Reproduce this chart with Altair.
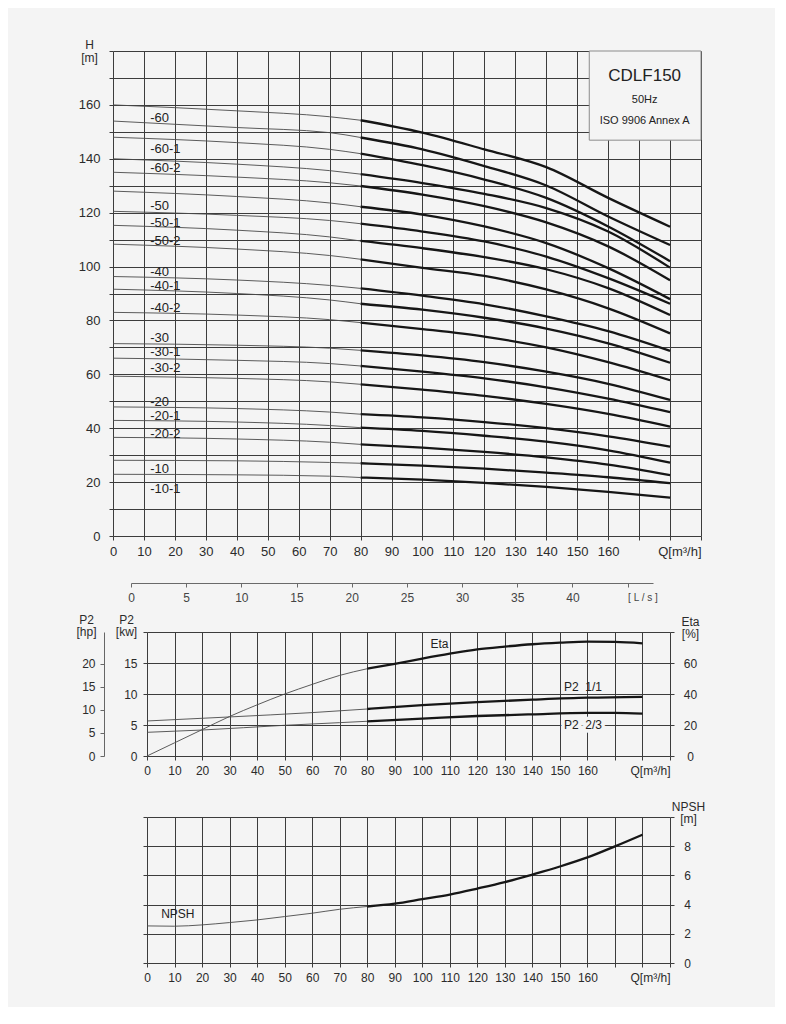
import altair as alt
import pandas as pd

FONT = "Liberation Sans"
BG = "#f4f4f4"
GRID = "#3c3c3c"
TXT = "#2b2b2b"
THIN = "#4a4a4a"
THICK = "#161616"

# ---------------- main chart: H(Q) curves ----------------
Q_THIN = [0, 40, 70, 80]
Q_THICK = [80, 100, 120, 140, 160, 180]
H_THIN = [
    [160.0, 157.8, 155.6, 154.3],
    [154.0, 151.6, 149.7, 147.9],
    [148.0, 146.0, 143.5, 141.9],
    [140.0, 138.0, 135.6, 134.3],
    [135.0, 133.2, 131.1, 129.9],
    [128.0, 126.0, 123.6, 122.2],
    [120.5, 119.0, 117.1, 115.9],
    [115.3, 113.5, 111.0, 109.5],
    [108.3, 106.5, 104.1, 102.7],
    [96.3, 95.0, 93.0, 91.9],
    [91.6, 90.0, 87.6, 86.2],
    [83.0, 82.0, 80.3, 79.2],
    [71.4, 70.8, 69.7, 68.9],
    [66.0, 65.2, 64.0, 63.1],
    [59.3, 58.5, 57.2, 56.3],
    [47.9, 47.3, 46.0, 45.2],
    [42.9, 42.3, 41.0, 40.2],
    [36.6, 36.0, 34.8, 34.0],
    [28.1, 27.9, 27.3, 27.0],
    [22.9, 22.7, 22.2, 21.7],
]
H_THICK = [
    [154.3, 149.7, 143.5, 136.9, 125.5, 114.8],
    [147.9, 143.5, 137.3, 130.1, 118.6, 108.0],
    [141.9, 137.6, 132.3, 125.5, 114.9, 102.0],
    [134.3, 131.0, 127.0, 121.7, 113.0, 99.6],
    [129.9, 126.7, 122.4, 116.4, 107.5, 94.9],
    [122.2, 119.3, 114.9, 108.7, 99.4, 87.9],
    [115.9, 113.0, 109.3, 103.7, 95.7, 86.2],
    [109.5, 106.8, 103.5, 99.0, 92.0, 82.0],
    [102.7, 99.5, 96.5, 91.5, 84.5, 75.2],
    [91.9, 89.2, 86.0, 81.5, 76.0, 68.7],
    [86.2, 84.0, 81.0, 77.0, 71.5, 64.3],
    [79.2, 76.8, 74.0, 70.0, 64.5, 57.8],
    [68.9, 67.0, 64.5, 61.0, 56.5, 50.5],
    [63.1, 61.0, 58.5, 55.2, 51.0, 46.0],
    [56.3, 54.3, 52.0, 49.0, 45.3, 40.6],
    [45.2, 44.0, 42.3, 40.0, 37.0, 33.2],
    [40.2, 39.0, 37.2, 35.0, 31.8, 27.2],
    [34.0, 32.8, 31.2, 29.2, 26.5, 22.6],
    [27.0, 26.1, 25.0, 23.5, 21.8, 19.6],
    [21.7, 20.9, 19.7, 18.2, 16.4, 14.2],
]
CURVE_LABELS = ["-60", "-60-1", "-60-2", "-50", "-50-1", "-50-2", "-40", "-40-1", "-40-2",
                "-30", "-30-1", "-30-2", "-20", "-20-1", "-20-2", "-10", "-10-1"]
CURVE_LABEL_H = [155.2, 143.6, 136.6, 122.5, 116.0, 109.5, 98.0, 92.8, 84.8,
                 73.6, 68.3, 62.4, 49.6, 44.6, 38.0, 24.9, 17.3]
CURVE_LABEL_Q = [12] * len(CURVE_LABELS)

BOX_Q = [153.9, 190]
BOX_H = [146.9, 180]
BOX_TEXT = ["CDLF150", "50Hz", "ISO 9906 Annex A"]
BOX_TEXT_Q = [171.8, 171.8, 171.8]
BOX_TEXT_H = [170.7, 161.7, 154.0]
BOX_TEXT_SIZE = [17, 11, 11]

Q_TICKS = list(range(0, 200, 10))
H_TICKS = list(range(0, 190, 10))

# ---------------- power / efficiency ----------------
P2_11_Q_THIN = [0, 30, 60, 80]
P2_11_THIN = [5.65, 6.3, 7.0, 7.58]
P2_11_Q_THICK = [80, 100, 120, 140, 160, 180]
P2_11_THICK = [7.58, 8.2, 8.7, 9.08, 9.4, 9.55]
P2_23_Q_THIN = [0, 20, 50, 70, 80]
P2_23_THIN = [3.82, 4.19, 4.95, 5.38, 5.6]
P2_23_Q_THICK = [80, 100, 120, 140, 160, 170, 180]
P2_23_THICK = [5.6, 6.02, 6.45, 6.72, 6.94, 6.95, 6.83]
ETA_Q_THIN = [0, 10, 20, 30, 40, 50, 60, 70, 80]
ETA_THIN = [0, 8.5, 17.0, 25.5, 33.0, 40.0, 46.2, 52.0, 56.3]
ETA_Q_THICK = [80, 90, 100, 110, 120, 130, 140, 150, 160, 170, 180]
ETA_THICK = [56.3, 59.4, 62.8, 66.0, 68.8, 70.6, 72.1, 73.1, 73.8, 73.6, 72.7]
KW_TICKS = [0, 5, 10, 15, 20]
HP_TICKS = [0, 5, 10, 15, 20]
ETA_TICKS = [0, 20, 40, 60, 80]
LPS_TICKS = [0, 5, 10, 15, 20, 25, 30, 35, 40, 45]
P2_LABELS = ["P2\u00a0\u00a01/1", "P2\u00a0\u00a02/3"]
P2_LABEL_Q = [158.4, 158.4]
P2_LABEL_KW = [11.2, 5.0]
ETA_LABEL = ["Eta"]
ETA_LABEL_Q = [103]
ETA_LABEL_V = [72]

# ---------------- NPSH ----------------
NPSH_Q_THIN = [0, 10, 20, 30, 40, 50, 60, 70, 80]
NPSH_THIN = [2.54, 2.52, 2.61, 2.77, 2.95, 3.18, 3.41, 3.68, 3.87]
NPSH_Q_THICK = [80, 90, 100, 110, 120, 130, 140, 150, 160, 170, 180]
NPSH_THICK = [3.87, 4.06, 4.37, 4.69, 5.10, 5.54, 6.06, 6.61, 7.23, 7.99, 8.79]
NPSH_TICKS = [0, 2, 4, 6, 8, 10]
NPSH_LABEL = ["NPSH"]
NPSH_LABEL_Q = [11.2]
NPSH_LABEL_V = [3.36]


def seg_rows(key, q_thin, v_thin, q_thick, v_thick):
    rows = []
    for q, v in zip(q_thin, v_thin):
        rows.append({"key": f"{key}-thin", "seg": "thin", "q": q, "v": v})
    for q, v in zip(q_thick, v_thick):
        rows.append({"key": f"{key}-thick", "seg": "thick", "q": q, "v": v})
    return rows


seg_color = alt.Color("seg:N", scale=alt.Scale(domain=["thin", "thick"], range=[THIN, THICK]), legend=None)
seg_width = alt.StrokeWidth("seg:N", scale=alt.Scale(domain=["thin", "thick"], range=[0.9, 2.3]), legend=None)

Q_LABEL_EXPR = "datum.value == 190 ? 'Q[m\u00b3/h]' : (datum.value > 160 ? '' : datum.label)"
Q_LABEL_ALIGN = {"condition": {"test": "datum.value == 190", "value": "right"}, "value": "center"}


def axis_q(size, pad):
    return alt.Axis(values=Q_TICKS, grid=True, gridColor=GRID, gridWidth=1, domain=False,
                    ticks=True, tickColor=GRID, tickSize=4, labelExpr=Q_LABEL_EXPR,
                    labelAlign=Q_LABEL_ALIGN, labelFlush=False, labelOverlap=False,
                    labelFontSize=size, labelColor=TXT, labelPadding=pad, title=None,
                    orient="bottom")


# ======== main chart ========
W_MAIN, H_MAIN = 588, 485
xs_main = alt.Scale(domain=[0, 190], nice=False, zero=False)
ys_main = alt.Scale(domain=[0, 180], nice=False)
x_axis_main = axis_q(13, 5)

rows = []
for i, (ht, hk) in enumerate(zip(H_THIN, H_THICK)):
    rows += seg_rows(i, Q_THIN, ht, Q_THICK, hk)
df_h = pd.DataFrame(rows)

y_axis_main = alt.Axis(values=H_TICKS, grid=True, gridColor=GRID, gridWidth=1, domain=False,
                       tickColor=GRID, tickSize=4,
                       labelExpr="datum.value % 20 == 0 && datum.value <= 160 ? datum.label : ''",
                       labelOverlap=False, labelFontSize=13, labelColor=TXT, labelPadding=9,
                       title=["H", "[m]"], titleAngle=0, titleAlign="center", titleBaseline="top",
                       titleX=-24, titleY=-12, titleFontSize=12, titleFontWeight="normal",
                       titleColor=TXT, titleLineHeight=13, orient="left")

curves = alt.Chart(df_h).mark_line(interpolate="monotone").encode(
    x=alt.X("q:Q", scale=xs_main, axis=x_axis_main),
    y=alt.Y("v:Q", scale=ys_main, axis=y_axis_main),
    detail="key:N", color=seg_color, strokeWidth=seg_width,
)

df_box = pd.DataFrame({"q": [BOX_Q[0]], "q1": [BOX_Q[1]], "v": [BOX_H[0]], "v1": [BOX_H[1]]})
box = alt.Chart(df_box).mark_rect(fill=BG, stroke="#8c8c8c", strokeWidth=1).encode(
    x=alt.X("q:Q", scale=xs_main, axis=x_axis_main), x2="q1",
    y=alt.Y("v:Q", scale=ys_main, axis=y_axis_main), y2="v1",
)
df_bt = pd.DataFrame({"t": BOX_TEXT, "q": BOX_TEXT_Q, "v": BOX_TEXT_H, "s": BOX_TEXT_SIZE})
box_text = alt.Chart(df_bt).mark_text(align="center", baseline="middle", color="#222222").encode(
    x=alt.X("q:Q", scale=xs_main, axis=x_axis_main),
    y=alt.Y("v:Q", scale=ys_main, axis=y_axis_main),
    text="t:N", size=alt.Size("s:Q", scale=None, legend=None),
)
df_lab = pd.DataFrame({"t": CURVE_LABELS, "q": CURVE_LABEL_Q, "v": CURVE_LABEL_H})
curve_labels = alt.Chart(df_lab).mark_text(align="left", baseline="middle", fontSize=13,
                                           color="#222222").encode(
    x=alt.X("q:Q", scale=xs_main, axis=x_axis_main),
    y=alt.Y("v:Q", scale=ys_main, axis=y_axis_main), text="t:N",
)
main = alt.layer(curves, box, box_text, curve_labels).properties(width=W_MAIN, height=H_MAIN)

# ======== sub charts geometry ========
W_SUB = 557
SHIFT = 34
H_MID = 124
H_NPSH = 146
xs_sub = alt.Scale(domain=[0, 190], range=[SHIFT, W_SUB], nice=False, zero=False)

# ======== middle chart ========
kw_scale = alt.Scale(domain=[0, 20], nice=False)
eta_scale = alt.Scale(domain=[0, 80], nice=False)
hp_scale = alt.Scale(domain=[0, 20 / 0.7457], nice=False)
lps_scale = alt.Scale(domain=[0, 47.3], range=[18, 540], nice=False, zero=False)

df_p2 = pd.DataFrame(seg_rows("p11", P2_11_Q_THIN, P2_11_THIN, P2_11_Q_THICK, P2_11_THICK)
                     + seg_rows("p23", P2_23_Q_THIN, P2_23_THIN, P2_23_Q_THICK, P2_23_THICK))
df_eta = pd.DataFrame(seg_rows("eta", ETA_Q_THIN, ETA_THIN, ETA_Q_THICK, ETA_THICK))

kw_axis = alt.Axis(values=KW_TICKS, grid=True, gridColor=GRID, gridWidth=1, offset=-SHIFT,
                   domain=False, tickColor=GRID, tickSize=4,
                   labelExpr="datum.value < 20 ? datum.label : ''", labelOverlap=False,
                   labelFontSize=12, labelColor=TXT, labelPadding=6,
                   title=["P2", "[kw]"], titleAngle=0, titleAlign="center", titleBaseline="top",
                   titleX=-21, titleY=-18, titleFontSize=12, titleFontWeight="normal",
                   titleColor=TXT, titleLineHeight=12.5, orient="left")
p2_lines = alt.Chart(df_p2).mark_line(interpolate="monotone").encode(
    x=alt.X("q:Q", scale=xs_sub, axis=axis_q(12, 5)),
    y=alt.Y("v:Q", scale=kw_scale, axis=kw_axis),
    detail="key:N", color=seg_color, strokeWidth=seg_width,
)
df_p2lab = pd.DataFrame({"t": P2_LABELS, "q": P2_LABEL_Q, "v": P2_LABEL_KW})
p2_halo = alt.Chart(df_p2lab.iloc[[1]]).mark_text(align="center", baseline="middle", fontSize=12,
                                                  color=BG, stroke=BG, strokeWidth=7).encode(
    x=alt.X("q:Q", scale=xs_sub, axis=None), y=alt.Y("v:Q", scale=kw_scale, axis=None), text="t:N",
)
p2_text = alt.Chart(df_p2lab).mark_text(align="center", baseline="middle", fontSize=12,
                                        color="#222222").encode(
    x=alt.X("q:Q", scale=xs_sub, axis=None), y=alt.Y("v:Q", scale=kw_scale, axis=None), text="t:N",
)
eta_axis = alt.Axis(values=ETA_TICKS, grid=False, domain=False, tickColor=GRID, tickSize=4,
                    labelExpr="datum.value < 80 ? datum.label : ''", labelOverlap=False,
                    labelAlign="center", labelFontSize=12, labelColor=TXT, labelPadding=16,
                    title=["Eta", "[%]"], titleAngle=0, titleAlign="center", titleBaseline="top",
                    titleX=20, titleY=-16, titleFontSize=12, titleFontWeight="normal",
                    titleColor=TXT, titleLineHeight=12.5, orient="right")
eta_line = alt.Chart(df_eta).mark_line(interpolate="monotone").encode(
    x=alt.X("q:Q", scale=xs_sub, axis=None),
    y=alt.Y("v:Q", scale=eta_scale, axis=eta_axis),
    detail="key:N", color=seg_color, strokeWidth=seg_width,
)
df_etalab = pd.DataFrame({"t": ETA_LABEL, "q": ETA_LABEL_Q, "v": ETA_LABEL_V})
eta_text = alt.Chart(df_etalab).mark_text(align="left", baseline="middle", fontSize=12,
                                          color="#222222").encode(
    x=alt.X("q:Q", scale=xs_sub, axis=None), y=alt.Y("v:Q", scale=eta_scale, axis=None), text="t:N",
)
hp_axis = alt.Axis(values=HP_TICKS, grid=False, offset=9, domain=True, domainColor="#666666",
                   tickColor="#666666", tickSize=4, labelOverlap=False, labelFontSize=12,
                   labelColor=TXT, labelPadding=5,
                   title=["P2", "[hp]"], titleAngle=0, titleAlign="center", titleBaseline="top",
                   titleX=-18, titleY=-18, titleFontSize=12, titleFontWeight="normal",
                   titleColor=TXT, titleLineHeight=12.5, orient="left")
hp_layer = alt.Chart(pd.DataFrame({"hp": HP_TICKS})).mark_point(opacity=0).encode(
    y=alt.Y("hp:Q", scale=hp_scale, axis=hp_axis),
)
lps_axis = alt.Axis(values=LPS_TICKS, grid=False, offset=-(H_MID + 49), domain=True,
                    domainColor="#6a6a6a", tickColor="#6a6a6a", tickSize=4,
                    labelExpr="datum.value == 45 ? '[ L / s ]' : datum.label",
                    labelAlign={"condition": {"test": "datum.value == 45", "value": "left"}, "value": "center"},
                    labelFontSize={"condition": {"test": "datum.value == 45", "value": 10}, "value": 12},
                    labelFlush=False, labelOverlap=False, labelColor="#444444", labelPadding=5,
                    title=None, orient="bottom")
lps_layer = alt.Chart(pd.DataFrame({"lps": LPS_TICKS})).mark_point(opacity=0).encode(
    x=alt.X("lps:Q", scale=lps_scale, axis=lps_axis),
)
middle = alt.layer(p2_lines, p2_halo, p2_text, eta_line, eta_text, hp_layer, lps_layer).resolve_scale(
    x="independent", y="independent").properties(width=W_SUB, height=H_MID)

# ======== NPSH chart ========
npsh_scale = alt.Scale(domain=[0, 10], nice=False)
x_axis_npsh = axis_q(12, 5)
df_npsh = pd.DataFrame(seg_rows("npsh", NPSH_Q_THIN, NPSH_THIN, NPSH_Q_THICK, NPSH_THICK))
npsh_left = alt.Axis(values=NPSH_TICKS, grid=True, gridColor=GRID, gridWidth=1, offset=-SHIFT,
                     domain=False, tickColor=GRID, tickSize=4, labels=False, title=None,
                     orient="left")
npsh_line = alt.Chart(df_npsh).mark_line(interpolate="monotone").encode(
    x=alt.X("q:Q", scale=xs_sub, axis=x_axis_npsh),
    y=alt.Y("v:Q", scale=npsh_scale, axis=npsh_left),
    detail="key:N", color=seg_color, strokeWidth=seg_width,
)
npsh_right = alt.Axis(values=NPSH_TICKS, grid=False, domain=False, tickColor=GRID, tickSize=4,
                      labelExpr="datum.value < 10 ? datum.label : ''", labelOverlap=False,
                      labelAlign="center", labelFontSize=12, labelColor=TXT, labelPadding=13,
                      title=["NPSH", "[m]"], titleAngle=0, titleAlign="center", titleBaseline="top",
                      titleX=18, titleY=-16, titleFontSize=12, titleFontWeight="normal",
                      titleColor=TXT, titleLineHeight=12.5, orient="right")
df_npshlab = pd.DataFrame({"t": NPSH_LABEL, "q": NPSH_LABEL_Q, "v": NPSH_LABEL_V})
npsh_text = alt.Chart(df_npshlab).mark_text(align="center", baseline="middle", fontSize=12,
                                            color="#222222").encode(
    x=alt.X("q:Q", scale=xs_sub, axis=x_axis_npsh), y=alt.Y("v:Q", scale=npsh_scale, axis=npsh_right),
    text="t:N",
)
bottom = alt.layer(npsh_line, npsh_text).resolve_axis(y="independent").properties(
    width=W_SUB, height=H_NPSH)

chart = alt.vconcat(main, middle, bottom, spacing=24).properties(
    padding={"left": 67, "top": 30, "right": 70, "bottom": 24}, background=BG,
).configure(font=FONT).configure_view(strokeWidth=0)

chart.save("out.html", embed_options={"renderer": "svg", "actions": False})
